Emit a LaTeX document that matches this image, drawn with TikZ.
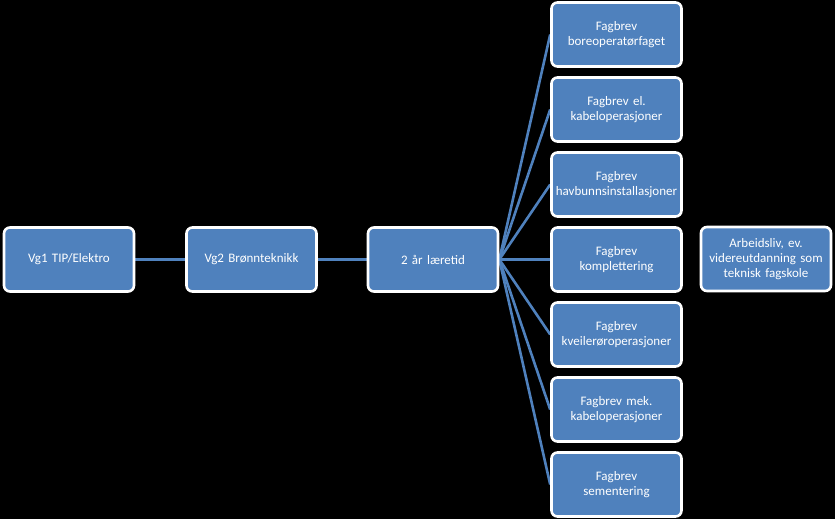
\documentclass[tikz,border=0pt]{standalone}
\usepackage{fontspec}
\setmainfont{Carlito}
\definecolor{boxblue}{HTML}{4F81BD}
\pgfdeclarelayer{background}
\pgfsetlayers{background,main}
\begin{document}
\begin{tikzpicture}[x=1pt,y=-1pt,
  stage/.style={draw=white, line width=2.6pt, fill=boxblue, rounded corners=6pt,
    minimum width=130pt, minimum height=64pt, inner sep=1pt, text=white, align=center,
    font=\fontsize{13}{15}\selectfont, text width=128pt},
  link/.style={draw=boxblue, line width=3.2pt},
  fan/.style={draw=boxblue, line width=2.6pt}]
\begin{pgfonlayer}{background}
\fill[black] (0,0) rectangle (835,519);
\end{pgfonlayer}
\useasboundingbox (0,0) rectangle (835,519);
\node[stage] (vg1) at (69,259.5) {Vg1 TIP/Elektro};
\node[stage] (vg2) at (251.5,259.5) {Vg2 Brønnteknikk};
\node[stage] (lar) at (433,259.5) {2 år læretid};
\node[stage] (f1) at (616.5,34.5) {Fagbrev\\boreoperatørfaget};
\node[stage] (f2) at (616.5,109.5) {Fagbrev el.\\kabeloperasjoner};
\node[stage] (f3) at (616.5,184.5) {Fagbrev\\havbunnsinstallasjoner};
\node[stage] (f4) at (616.5,259.5) {Fagbrev\\komplettering};
\node[stage] (f5) at (616.5,334.5) {Fagbrev\\kveilerøroperasjoner};
\node[stage] (f6) at (616.5,409.5) {Fagbrev mek.\\kabeloperasjoner};
\node[stage] (f7) at (616.5,484.5) {Fagbrev\\sementering};
\node[stage] (arb) at (766,259) {Arbeidsliv, ev.\\videreutdanning som\\teknisk fagskole};
\begin{pgfonlayer}{background}
\path[link] (vg1.east) -- (vg2.west);
\path[link] (vg2.east) -- (lar.west);
\foreach \f in {f1,f2,f3,f4,f5,f6,f7}{\path[fan] (lar.east) -- (\f.west);}
\end{pgfonlayer}
\end{tikzpicture}
\end{document}
